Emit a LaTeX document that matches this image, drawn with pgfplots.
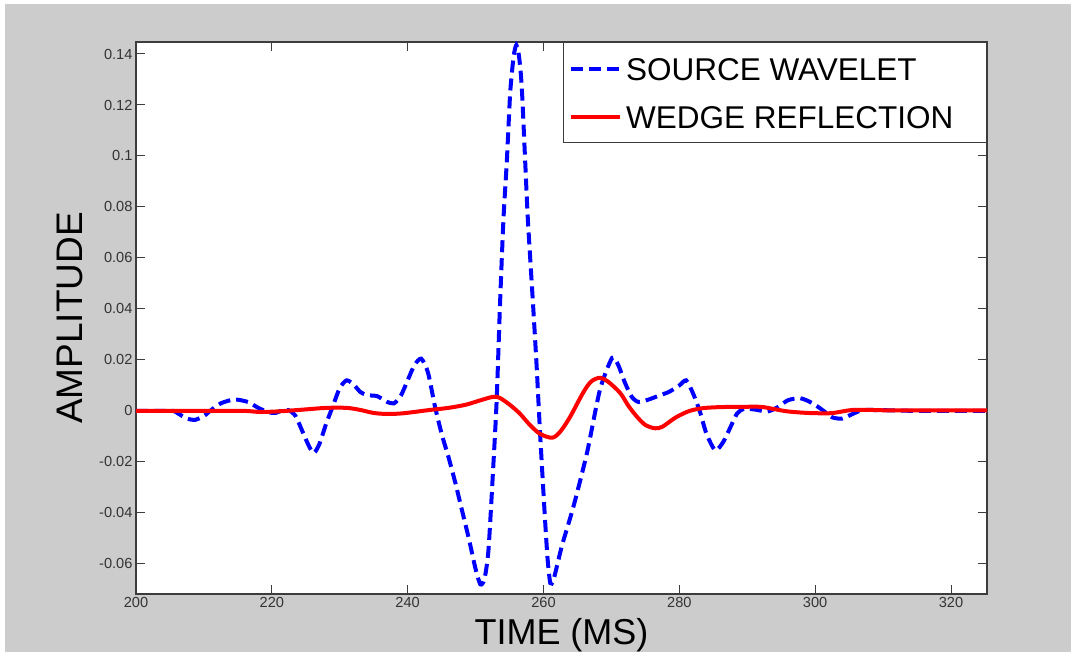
\documentclass[border=0pt]{standalone}
\usepackage{fontspec}
\setmainfont{Liberation Sans}
\usepackage{pgfplots}
\pgfplotsset{compat=1.18}
\definecolor{figgray}{HTML}{CCCCCC}
\definecolor{axisgray}{HTML}{3C3C3C}
\definecolor{labelgray}{HTML}{333333}
\begin{document}
\begin{tikzpicture}
\useasboundingbox (0pt,0pt) rectangle (1071pt,-652pt);
\fill[white] (0pt,0pt) rectangle (1071pt,-652pt);
\fill[figgray] (5pt,-4pt) rectangle (1071pt,-652pt);
\begin{axis}[
  at={(136pt,-594pt)}, anchor=south west,
  scale only axis, width=851pt, height=552pt,
  xmin=200, xmax=325.3, ymin=-0.0718, ymax=0.1447,
  xtick={200,220,240,260,280,300,320},
  ytick={-0.06,-0.04,-0.02,0,0.02,0.04,0.06,0.08,0.1,0.12,0.14},
  scaled y ticks=false,
  yticklabel style={/pgf/number format/fixed, /pgf/number format/precision=2},
  /pgf/number format/assume math mode=true,
  tick align=inside, major tick length=9pt,
  axis line style={draw=axisgray, line width=1.2pt},
  every tick/.style={draw=axisgray, line width=1pt},
  tick label style={font=\fontsize{14.6}{17}\selectfont, text=labelgray},
  axis background/.style={fill=white},
  xlabel={TIME (MS)}, ylabel={AMPLITUDE},
  xlabel style={font=\fontsize{36}{40}\selectfont, at={(axis description cs:0.5,-0.0906)}, anchor=base},
  ylabel style={font=\fontsize{37}{40}\selectfont, at={(axis description cs:-0.0623,0.5)}, anchor=base},
  legend style={at={(1,1)}, anchor=north east, draw=axisgray, line width=1.2pt, fill=white,
    font=\fontsize{31.5}{36}\selectfont, inner xsep=6pt, inner ysep=8pt, row sep=12pt,
    nodes={inner xsep=4pt, inner ysep=6pt, text height=24pt, text depth=0pt}},
  legend cell align=left,
  legend image code/.code={\draw[#1, line width=4pt] (0pt,0pt) -- (49pt,0pt);},
]
\addplot[blue, line width=4pt, dash pattern=on 12pt off 6pt, smooth, tension=0.4] coordinates {
(200,0) (202,0) (204,0) (205.5,0) (206.5,-0.0015) (207.5,-0.003) (208.7,-0.0035)
(210,-0.002) (211,0.0002) (212.5,0.003) (214.5,0.0045) (216.5,0.0035) (218,0.0012)
(219.5,-0.0005) (220.5,-0.0008) (221.5,0.0002) (222.5,0.0003) (223.5,-0.002)
(224.5,-0.008) (225.5,-0.014) (226.2,-0.0165) (227,-0.013) (228,-0.005) (229,0.002)
(230,0.009) (231,0.012) (232,0.0105) (233,0.0075) (234,0.0062) (235.5,0.0058)
(237,0.0035) (238,0.003) (239,0.006) (240,0.012) (241,0.018) (242,0.0205)
(243,0.015) (244,0.002) (245,-0.009) (246,-0.018) (247,-0.028) (248,-0.039)
(249,-0.05) (250,-0.062) (250.7,-0.068) (251.3,-0.066) (251.9,-0.0545) (252.6,-0.022)
(253.1,0.004) (253.6,0.042) (254.1,0.075) (254.6,0.098) (255.1,0.125) (255.6,0.139)
(256.0,0.1435) (256.4,0.139) (256.8,0.127) (257.3,0.098) (257.7,0.075) (258.5,0.04)
(259.0,0.017) (259.5,-0.009) (260.2,-0.0415) (260.6,-0.058) (261.0,-0.0675)
(261.5,-0.066) (262.7,-0.053) (264.4,-0.0376) (266.4,-0.0165) (268.3,0.0082)
(270.1,0.0208) (271,0.018) (272,0.011) (273,0.0055) (274,0.0035) (275.5,0.0045)
(277,0.006) (278.5,0.0075) (280,0.01) (281,0.012) (282,0.007) (283,0) (284,-0.009)
(285.3,-0.0155) (286.5,-0.012) (287.5,-0.0065) (288.5,-0.001) (289.5,0.0008)
(291,0.0006) (293,-0.0002) (294.5,0.0015) (296,0.0042) (297.8,0.005) (299.5,0.0032)
(301,0.0005) (302.5,-0.0025) (304,-0.003) (305.5,-0.0012) (307,0.0003) (310,0.0003)
(315,0) (320,0) (325.3,0)
};
\addlegendentry{SOURCE WAVELET}
\addplot[red, line width=4pt, smooth, tension=0.5] coordinates {
(200,0) (210,0) (216,0) (218,-0.0004) (220,-0.0003) (222,0) (225,0.0006) (228,0.0012)
(231,0.0012) (233,0.0004) (235,-0.0008) (237,-0.0012) (239,-0.001) (241,-0.0004)
(243,0.0003) (246,0.0012) (248.5,0.0024) (250.5,0.004) (252.5,0.0055) (253.5,0.0052)
(255,0.0025) (256.5,-0.001) (258,-0.0055) (259.5,-0.009) (261.3,-0.0105) (262.5,-0.008)
(263.9,-0.0024) (265.8,0.007) (267,0.0115) (268.3,0.013) (269.5,0.0115) (271.3,0.007)
(272.5,0.002) (273.8,-0.0024) (275,-0.0055) (276.4,-0.0068) (277.5,-0.0062)
(279.5,-0.0025) (281.5,0) (283.5,0.0011) (286,0.0015) (289,0.0016) (292,0.0016)
(294,0.0007) (296,-0.0002) (299,-0.0008) (302.2,-0.0009) (304,-0.0002) (305.5,0.0004)
(308,0.0004) (312,0.0002) (325.3,0.0002)
};
\addlegendentry{WEDGE REFLECTION\hspace*{23pt}}
\end{axis}
\end{tikzpicture}
\end{document}
